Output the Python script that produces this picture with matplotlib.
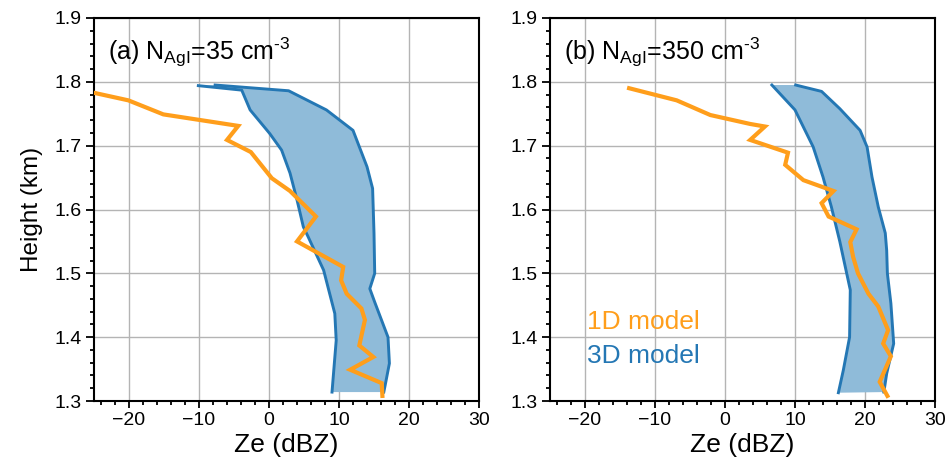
import numpy as np
import matplotlib
matplotlib.use("Agg")
import matplotlib.pyplot as plt
from matplotlib.ticker import MultipleLocator

plt.rcParams['font.family'] = ['Liberation Sans', 'DejaVu Sans']
plt.rcParams['mathtext.fontset'] = 'custom'
plt.rcParams['mathtext.rm'] = 'Liberation Sans'
plt.rcParams['mathtext.it'] = 'Liberation Sans'
plt.rcParams['mathtext.bf'] = 'Liberation Sans:bold'

# ---- data: panel (a) ----
a_1d_ze = [-28.0, -20.1, -15.1, -4.4, -6.0, -2.6, 0.4, 3.0, 6.7, 4.0, 10.6, 10.3, 11.1,
           13.2, 13.7, 12.9, 14.9, 11.6, 16.1, 16.2]
a_1d_h = [1.790, 1.771, 1.749, 1.731, 1.709, 1.690, 1.649, 1.629, 1.589, 1.550, 1.510, 1.489,
          1.468, 1.445, 1.427, 1.387, 1.369, 1.349, 1.328, 1.308]

a_3d_left_ze = [-10.1, -3.9, -2.7, 0.1, 1.8, 3.0, 4.0, 4.9, 5.6, 7.8, 9.4, 9.6, 9.0]
a_3d_left_h = [1.794, 1.787, 1.756, 1.719, 1.693, 1.657, 1.615, 1.573, 1.557, 1.505, 1.437, 1.395, 1.314]
a_3d_right_ze = [-7.7, 2.8, 8.2, 12.0, 14.0, 14.8, 15.0, 15.1, 14.4, 15.1, 17.0, 17.2, 16.6, 16.4]
a_3d_right_h = [1.795, 1.786, 1.756, 1.724, 1.667, 1.633, 1.563, 1.500, 1.476, 1.455, 1.400, 1.359, 1.325, 1.314]

# ---- data: panel (b) ----
b_1d_ze = [-13.7, -6.9, -2.1, 3.6, 5.7, 3.6, 9.0, 8.6, 11.2, 15.5, 13.8, 14.8, 18.8, 17.9,
           18.3, 19.0, 20.5, 21.9, 23.3, 22.6, 23.7, 22.1, 23.2]
b_1d_h = [1.790, 1.771, 1.748, 1.734, 1.730, 1.709, 1.689, 1.670, 1.646, 1.629, 1.610, 1.589,
          1.569, 1.549, 1.526, 1.500, 1.468, 1.448, 1.411, 1.390, 1.370, 1.330, 1.308]

b_3d_left_ze = [6.7, 10.0, 12.6, 14.0, 15.2, 16.4, 17.9, 17.8, 16.9, 16.2]
b_3d_left_h = [1.795, 1.756, 1.698, 1.651, 1.604, 1.550, 1.474, 1.400, 1.348, 1.313]
b_3d_right_ze = [10.1, 13.8, 16.4, 19.3, 20.3, 21.0, 21.9, 22.9, 23.1, 23.2, 23.7, 24.1, 23.1, 22.7]
b_3d_right_h = [1.795, 1.785, 1.758, 1.724, 1.698, 1.651, 1.604, 1.563, 1.536, 1.500, 1.453,
                1.390, 1.343, 1.314]

x_ticks = [-20, -10, 0, 10, 20, 30]
y_ticks = [1.3, 1.4, 1.5, 1.6, 1.7, 1.8, 1.9]
y_ticklabels = ['1.3', '1.4', '1.5', '1.6', '1.7', '1.8', '1.9']

titles = [r'(a) N$_{\mathregular{AgI}}$=35 cm$^{\text{-3}}$',
          r'(b) N$_{\mathregular{AgI}}$=350 cm$^{\text{-3}}$']

ORANGE = '#ff9e1b'
BLUE = '#2477b4'
FILL = '#8fbbd9'

fig = plt.figure(figsize=(9.47, 4.65), dpi=100)
ax_a = fig.add_axes([0.0993, 0.1376, 0.4065, 0.8237])
ax_b = fig.add_axes([0.5808, 0.1376, 0.4065, 0.8237])

panels = [
    (ax_a, a_1d_ze, a_1d_h, a_3d_left_ze, a_3d_left_h, a_3d_right_ze, a_3d_right_h),
    (ax_b, b_1d_ze, b_1d_h, b_3d_left_ze, b_3d_left_h, b_3d_right_ze, b_3d_right_h),
]

for i, (ax, oz, oh, lz, lh, rz, rh) in enumerate(panels):
    px = np.concatenate([lz, rz[::-1]])
    py = np.concatenate([lh, rh[::-1]])
    ax.fill(px, py, color=FILL, lw=0, zorder=2)
    ax.plot(lz, lh, color=BLUE, lw=2.1, zorder=3, solid_joinstyle='round')
    ax.plot(rz, rh, color=BLUE, lw=2.1, zorder=3, solid_joinstyle='round')
    ax.plot(oz, oh, color=ORANGE, lw=3.0, zorder=4, solid_joinstyle='miter')
    ax.set_xlim(-25, 30)
    ax.set_ylim(1.3, 1.9)
    ax.set_xticks(x_ticks)
    ax.set_yticks(y_ticks)
    ax.set_yticklabels(y_ticklabels)
    ax.xaxis.set_minor_locator(MultipleLocator(2))
    ax.yaxis.set_minor_locator(MultipleLocator(0.02))
    ax.grid(True, which='major', color='#b4b4b4', lw=1.0, zorder=1)
    ax.set_axisbelow(True)
    ax.tick_params(which='both', direction='out', top=False, right=False,
                   labelsize=14, width=1.3, colors='black', pad=3)
    ax.tick_params(axis='y', which='major', length=6)
    ax.tick_params(axis='y', which='minor', length=3.2)
    ax.tick_params(axis='x', which='major', length=5)
    ax.tick_params(axis='x', which='minor', length=3)
    for sp in ax.spines.values():
        sp.set_linewidth(1.5)
    ax.set_xlabel('Ze (dBZ)', fontsize=19, labelpad=3)
    ax.text(0.036, 0.890, titles[i], transform=ax.transAxes, fontsize=18,
            ha='left', va='baseline')

ax_a.set_ylabel('Height (km)', fontsize=17.5, labelpad=8)

ax_b.text(0.096, 0.187, '1D model', transform=ax_b.transAxes, fontsize=19,
          color=ORANGE, ha='left', va='baseline')
ax_b.text(0.096, 0.099, '3D model', transform=ax_b.transAxes, fontsize=19,
          color=BLUE, ha='left', va='baseline')

fig.savefig('out.png', dpi=100)
